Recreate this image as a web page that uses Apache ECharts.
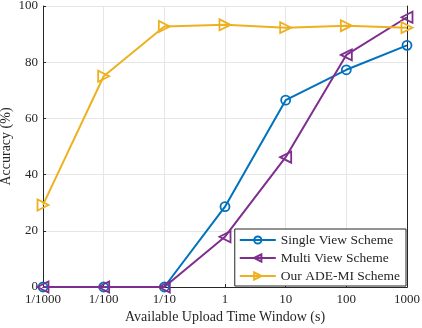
<!DOCTYPE html>
<html><head><meta charset="utf-8">
<script src="https://cdn.jsdelivr.net/npm/echarts@6/dist/echarts.min.js"></script>
<style>html,body{margin:0;padding:0;background:#fff}#c{width:422px;height:328px}</style>
</head><body><div id="c"></div>
<script>
const categories = ['1/1000','1/100','1/10','1','10','100','1000'];
const singleView = [0, 0, 0, 28.6, 66.5, 77.3, 86.0];
const multiView = [0, 0, 0, 17.9, 46.2, 82.6, 96.0];
const ourScheme = [29.2, 75.0, 92.7, 93.3, 92.3, 93.0, 92.3];
const yTicks = [0, 20, 40, 60, 80, 100];

const font = 'Liberation Serif, Times New Roman, serif';
function mk(name, data, color, symbol, rot, size) {
  return {
    name, type: 'line', data, symbol, symbolSize: size, symbolRotate: rot,
    lineStyle: {color, width: 2}, itemStyle: {color: 'rgba(255,255,255,0)', borderColor: color, borderWidth: 1.8},
    emphasis: {disabled: true}, z: 3, clip: false
  };
}
const chart = echarts.init(document.getElementById('c'), null, {renderer: 'canvas'});
chart.setOption({
  animation: false,
  textStyle: {fontFamily: font},
  grid: {left: 43, right: 15, top: 6, bottom: 41, containLabel: false, outerBoundsMode: 'none'},
  xAxis: [{
    type: 'category', data: categories, boundaryGap: false,
    name: 'Available Upload Time Window (s)', nameLocation: 'middle', nameGap: 23, nameMoveOverlap: false,
    nameTextStyle: {fontSize: 14, color: '#262626', fontFamily: font},
    axisLine: {lineStyle: {color: '#262626'}}, axisTick: {inside: true, length: 3, lineStyle: {color: '#262626'}},
    axisLabel: {fontSize: 13, color: '#262626', margin: 6, fontFamily: font},
    splitLine: {show: true, lineStyle: {color: '#e6e6e6'}}
  }, {
    type: 'category', data: categories, boundaryGap: false, position: 'top',
    axisLine: {lineStyle: {color: '#262626'}}, axisTick: {show: false}, axisLabel: {show: false}, splitLine: {show: false}
  }],
  yAxis: [{
    type: 'value', min: 0, max: 100, interval: 20,
    name: 'Accuracy (%)', nameLocation: 'middle', nameGap: 30, nameMoveOverlap: false,
    nameTextStyle: {fontSize: 14, color: '#262626', fontFamily: font},
    axisLine: {show: true, lineStyle: {color: '#262626'}}, axisTick: {show: true, inside: true, length: 3, lineStyle: {color: '#262626'}},
    axisLabel: {fontSize: 13, color: '#262626', margin: 5, fontFamily: font,
      formatter: v => yTicks.includes(v) ? String(v) : ''},
    splitLine: {show: true, lineStyle: {color: '#e6e6e6'}}
  }, {
    type: 'value', min: 0, max: 100, interval: 20, position: 'right',
    axisLine: {show: true, lineStyle: {color: '#262626'}}, axisTick: {show: false}, axisLabel: {show: false}, splitLine: {show: false}
  }],
  legend: {
    orient: 'vertical', right: 16, bottom: 42, backgroundColor: '#fff', borderColor: '#262626', borderWidth: 1,
    padding: [4, 6, 3, 4], itemWidth: 36, itemHeight: 9, itemGap: 4,
    textStyle: {fontSize: 13.5, color: '#262626', fontFamily: font},
    data: ['Single View Scheme', 'Multi View Scheme', 'Our ADE-MI Scheme']
  },
  series: [
    mk('Single View Scheme', singleView, '#0072BD', 'circle', 0, 9),
    mk('Multi View Scheme', multiView, '#7E2F8E', 'triangle', 90, 11),
    mk('Our ADE-MI Scheme', ourScheme, '#EDB120', 'triangle', -90, 11)
  ]
});
</script></body></html>
